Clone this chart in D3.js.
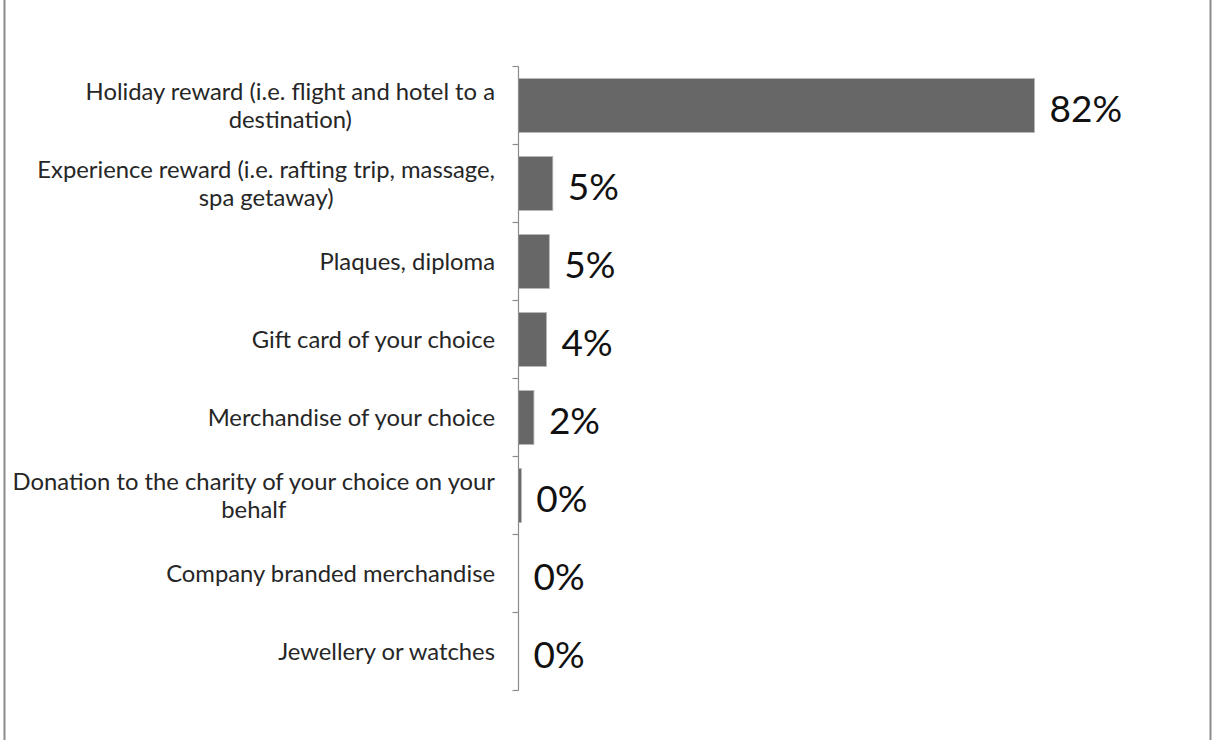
<!DOCTYPE html>
<html>
<head>
<meta charset="utf-8">
<script src="https://cdn.jsdelivr.net/npm/d3@7"></script>
<style>
  html, body { margin: 0; padding: 0; background: #fff; }
  svg { display: block; }
</style>
</head>
<body>
<svg id="chart" width="1212" height="740"></svg>
<script>
// Preferred reward types (share of respondents)
const categories = [
  "Holiday reward (i.e. flight and hotel to a\ndestination)",
  "Experience reward (i.e. rafting trip, massage,\nspa getaway)",
  "Plaques, diploma",
  "Gift card of your choice",
  "Merchandise of your choice",
  "Donation to the charity of your choice on your\nbehalf",
  "Company branded merchandise",
  "Jewellery or watches"
];
const values = [82.0, 5.45, 4.9, 4.45, 2.45, 0.45, 0, 0];

const svg = d3.select("#chart");
const W = 1212, H = 740;
const font = "Lato, 'Open Sans', sans-serif";

// outer chart frame (left and right edges)
svg.append("line").attr("x1", 4.5).attr("x2", 4.5).attr("y1", 0).attr("y2", H)
  .attr("stroke", "#8c8c8c").attr("stroke-width", 2);
svg.append("line").attr("x1", 1210.5).attr("x2", 1210.5).attr("y1", 0).attr("y2", H)
  .attr("stroke", "#8c8c8c").attr("stroke-width", 2);

const axisX = 518.5;
const y = d3.scaleBand()
  .domain(categories)
  .range([66.5, 690.5])
  .paddingInner(0.31)
  .paddingOuter(0.155);

const x = d3.scaleLinear()
  .domain([0, d3.max(values)])
  .range([axisX, 1034.5]);

// bars
svg.append("g").selectAll("rect")
  .data(categories)
  .join("rect")
  .attr("x", axisX)
  .attr("y", d => y(d))
  .attr("width", (d, i) => x(values[i]) - axisX)
  .attr("height", y.bandwidth())
  .attr("fill", "#676767")
  .attr("stroke", (d, i) => values[i] > 0 ? "#b5b5b5" : "none")
  .attr("stroke-width", 0.8);

// category axis: vertical line with ticks at band boundaries
const step = y.step();
const boundaries = d3.range(categories.length + 1).map(i => 66.5 + i * step);
const axisG = svg.append("g");
axisG.append("line")
  .attr("x1", axisX).attr("x2", axisX)
  .attr("y1", 66.5).attr("y2", 690.5)
  .attr("stroke", "#8c8c8c").attr("stroke-width", 1.2);
axisG.selectAll("line.tick")
  .data(boundaries)
  .join("line")
  .attr("class", "tick")
  .attr("x1", axisX - 6).attr("x2", axisX)
  .attr("y1", d => d).attr("y2", d => d)
  .attr("stroke", "#8c8c8c").attr("stroke-width", 1.2);

// category labels (multi-line, lines centred on each other, block right-aligned)
const labelRight = 495;
const fs = 23.8;
const lh = 28;
categories.forEach((c, i) => {
  const lines = c.split("\n");
  const cy = y(c) + y.bandwidth() / 2;
  const g = svg.append("g");
  const texts = lines.map((ln, k) =>
    g.append("text")
      .attr("font-family", font)
      .attr("font-size", fs)
      .attr("fill", "#262626")
      .attr("text-anchor", "middle")
      .attr("y", cy + (k - (lines.length - 1) / 2) * lh + fs * 0.36)
      .text(ln)
  );
  const widths = texts.map(t => t.node().getComputedTextLength());
  const maxW = d3.max(widths);
  texts.forEach(t => t.attr("x", labelRight - maxW / 2));
});

// value labels
const pct = v => Math.round(v) + "%";
svg.append("g").selectAll("text")
  .data(categories)
  .join("text")
  .attr("font-family", font)
  .attr("font-size", 37)
  .attr("fill", "#111")
  .attr("x", (d, i) => x(values[i]) + 15)
  .attr("y", d => y(d) + y.bandwidth() / 2 + 16)
  .text((d, i) => pct(values[i]));
</script>
</body>
</html>
